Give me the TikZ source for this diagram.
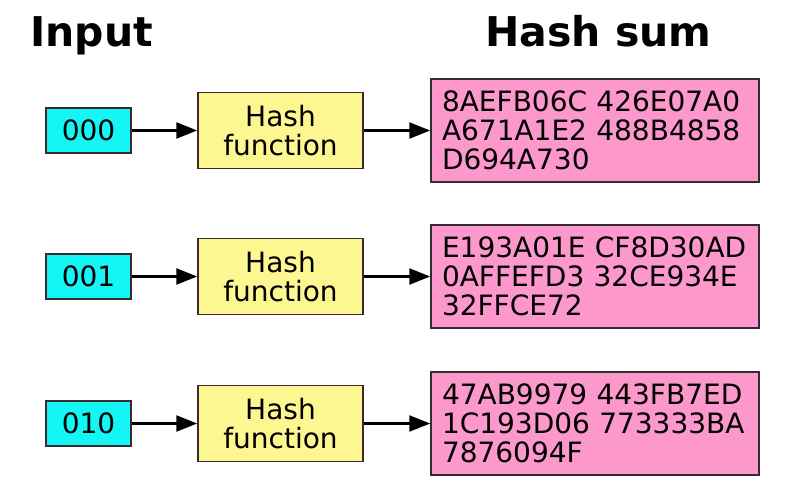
\documentclass[tikz,border=0pt]{standalone}
\usepackage{fontspec}
\setmainfont{DejaVu Sans}
\usetikzlibrary{arrows.meta}
\definecolor{incol}{HTML}{14F5F5}
\definecolor{hashcol}{HTML}{FCF790}
\definecolor{sumcol}{HTML}{FC98CC}
\definecolor{edgecol}{HTML}{3A2A30}
\tikzset{
  box/.style={draw=edgecol, line width=1.5pt, inner sep=0pt, font=\fontsize{28}{29}\selectfont},
  inbox/.style={box, fill=incol, minimum width=85pt, minimum height=45pt},
  hashbox/.style={box, fill=hashcol, minimum width=165pt, minimum height=76pt, align=center},
  sumbox/.style={box, fill=sumcol, minimum width=328pt, minimum height=103pt, text width=306pt, inner xsep=11pt, align=left},
  title/.style={inner sep=0pt, anchor=base west, font=\fontsize{41}{45}\selectfont\bfseries},
  conn/.style={line width=2.4pt, -{Triangle[length=21pt,width=16pt]}}
}
\begin{document}
\begin{tikzpicture}[x=1pt, y=-1pt]
\useasboundingbox (0,0) rectangle (800,500);
\node[title] (tin) at (30,47) {Input};
\node[title] (tsum) at (485,47) {Hash sum};

\node[inbox] (i1) at (88.5,130.5) {000};
\node[hashbox] (h1) at (280.5,130.5) {Hash\\function};
\node[sumbox] (s1) at (595,130.5) {8AEFB06C 426E07A0\\A671A1E2 488B4858\\D694A730};

\node[inbox] (i2) at (88.5,276.5) {001};
\node[hashbox] (h2) at (280.5,276.5) {Hash\\function};
\node[sumbox] (s2) at (595,276.5) {E193A01E CF8D30AD\\0AFFEFD3 32CE934E\\32FFCE72};

\node[inbox] (i3) at (88.5,423.5) {010};
\node[hashbox] (h3) at (280.5,423.5) {Hash\\function};
\node[sumbox] (s3) at (595,423.5) {47AB9979 443FB7ED\\1C193D06 773333BA\\7876094F};

\foreach \k in {1,2,3}{
  \draw[conn] (i\k) -- (h\k);
  \draw[conn] (h\k) -- (s\k);
}
\end{tikzpicture}
\end{document}
